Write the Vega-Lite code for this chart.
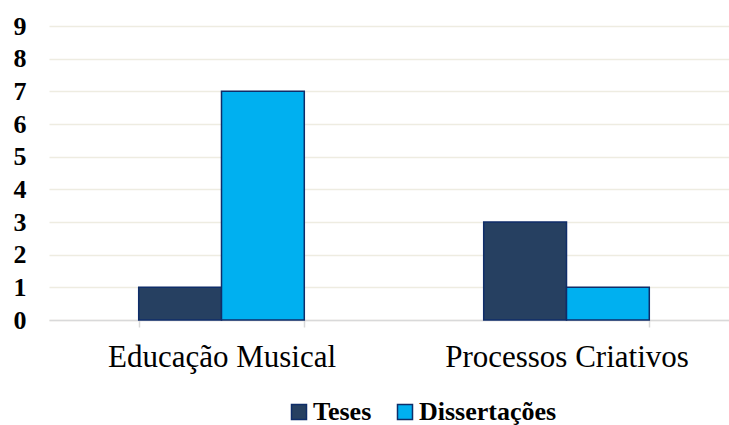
{
  "$schema": "https://vega.github.io/schema/vega-lite/v6.json",
  "autosize": {"type": "none"},
  "padding": {"left": 49, "top": 26, "right": 0, "bottom": 105},
  "width": 680,
  "height": 294,
  "background": "white",
  "data": {"values": [
    {"area": "Educação Musical", "tipo": "Teses", "valor": 1},
    {"area": "Educação Musical", "tipo": "Dissertações", "valor": 7},
    {"area": "Processos Criativos", "tipo": "Teses", "valor": 3},
    {"area": "Processos Criativos", "tipo": "Dissertações", "valor": 1}
  ]},
  "config": {"view": {"stroke": null}},
  "mark": {"type": "bar", "stroke": "#0F2D69", "strokeWidth": 1.5},
  "encoding": {
    "x": {
      "field": "area", "type": "nominal", "title": null,
      "scale": {"paddingInner": 0.52, "paddingOuter": 0.26, "range": [0, 690]},
      "axis": {
        "labelAngle": 0, "labelFont": "Liberation Serif", "labelFontSize": 31,
        "labelColor": "black", "labelPadding": 15, "labelLimit": 400, "domainColor": "#D9D9D9",
        "domainWidth": 1.5, "tickColor": "#D9D9D9", "tickSize": 7, "tickBand": "extent",
        "tickWidth": 1.5, "grid": false
      }
    },
    "xOffset": {"field": "tipo", "type": "nominal", "sort": ["Teses", "Dissertações"]},
    "y": {
      "field": "valor", "type": "quantitative", "title": null,
      "scale": {"domain": [0, 9]},
      "axis": {
        "values": [0,1,2,3,4,5,6,7,8,9], "domain": false, "ticks": false,
        "labelFont": "Liberation Serif", "labelFontSize": 26, "labelFontWeight": "bold",
        "labelColor": "black", "labelPadding": 23,
        "gridColor": "#EEECE1", "gridWidth": 1.5
      }
    },
    "color": {
      "field": "tipo", "type": "nominal", "sort": ["Teses", "Dissertações"],
      "scale": {"domain": ["Teses", "Dissertações"], "range": ["#264061", "#00B0F0"]},
      "legend": {
        "title": null, "orient": "none", "direction": "horizontal",
        "legendX": 237, "legendY": 373,
        "symbolType": "square", "symbolSize": 225, "symbolStrokeColor": "#0F2D69",
        "symbolStrokeWidth": 1.5, "symbolOpacity": 1,
        "labelFont": "Liberation Serif", "labelFontSize": 26, "labelFontWeight": "bold",
        "labelColor": "black", "labelOffset": 1, "columnPadding": 20, "labelLimit": 300
      }
    }
  }
}
